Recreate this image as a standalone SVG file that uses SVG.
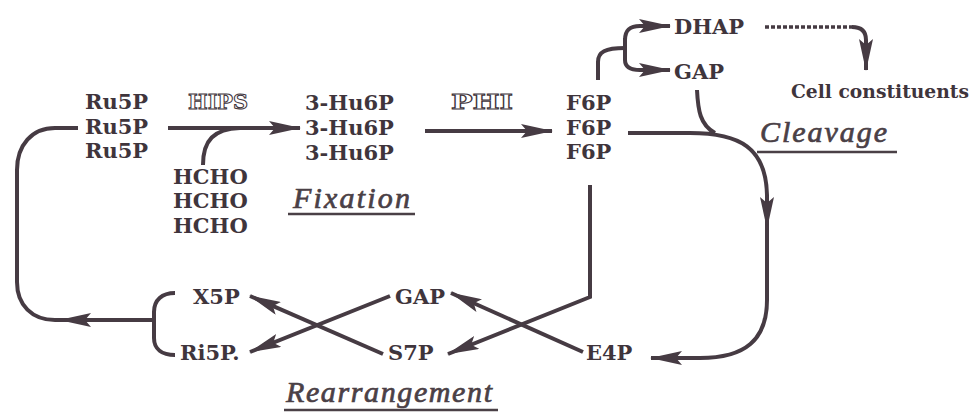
<svg xmlns="http://www.w3.org/2000/svg" width="977" height="414" viewBox="0 0 977 414">
<defs>
<marker id="ah" viewBox="0 0 32 14" refX="31" refY="7" markerWidth="32" markerHeight="14" markerUnits="userSpaceOnUse" orient="auto">
<path d="M0,0 L32,7 L0,14 L6,7 Z" fill="#463b43"/>
</marker>
</defs>
<style>
text{fill:#3f353c;font-family:"DejaVu Serif","Liberation Serif",serif;font-weight:bold;font-size:21px}
.it{font-family:"Liberation Serif",serif;font-style:italic;font-weight:normal;font-size:30px;fill:#4a4046;stroke:#4a4046;stroke-width:0.7}
.ol{fill:#ffffff;stroke:#3f353c;stroke-width:1;font-weight:bold;font-size:20px}
.ln{fill:none;stroke:#463b43;stroke-width:4;stroke-linecap:butt}
.ul{stroke:#4a4046;stroke-width:2.5}
</style>
<rect width="977" height="414" fill="#ffffff"/>
<g id="connectors">
<path class="ln" d="M168,128 H300" marker-end="url(#ah)"/>
<path class="ln" d="M203,165 C203,140 214,129 240,128"/>
<path class="ln" d="M425,131 H552" marker-end="url(#ah)"/>
<path class="ln" d="M598,80 V62 C598,52 605,48 625,48"/>
<path class="ln" d="M625,38 V60 C625,67 630,70 640,70 H670" marker-end="url(#ah)"/>
<path class="ln" d="M625,40 C625,30 630,26 640,26 H670" marker-end="url(#ah)"/>
<path fill="none" stroke="#463b43" stroke-width="3.5" stroke-dasharray="4,2" d="M765,27 H852"/>
<path class="ln" d="M852,27 C860,27 866,30 866,40 V70" marker-end="url(#ah)"/>
<path class="ln" d="M697,90 C698,110 700,125 715,133"/>
<path class="ln" d="M628,133 H690 C740,133 766,148 767,195 V228" marker-end="url(#ah)"/>
<path class="ln" d="M767,226 V300 C767,340 745,358 700,358 H651" marker-end="url(#ah)"/>
<path class="ln" d="M590,185 V297 L448,354" marker-end="url(#ah)"/>
<path class="ln" d="M583,352 L451,293" marker-end="url(#ah)"/>
<path class="ln" d="M390,296 L250,352" marker-end="url(#ah)"/>
<path class="ln" d="M383,354 L250,296" marker-end="url(#ah)"/>
<path class="ln" d="M175,293 C162,293 154,300 154,312 V338 C154,349 162,355 175,355"/>
<path class="ln" d="M154,320 H60" marker-end="url(#ah)"/>
<path class="ln" d="M64,320 H55 C32,320 17,305 17,282 V170 C17,145 32,128 55,128 H78"/>
</g>
<g id="ru5p"><text x="85" y="109">Ru5P</text><text x="85" y="134">Ru5P</text><text x="85" y="158">Ru5P</text></g>
<g id="hips"><text class="ol" x="188" y="109" textLength="60" lengthAdjust="spacingAndGlyphs">HIPS</text></g>
<g id="hcho"><text x="173" y="184">HCHO</text><text x="173" y="208">HCHO</text><text x="173" y="233">HCHO</text></g>
<g id="hu6p"><text x="305" y="110">3-Hu6P</text><text x="305" y="135">3-Hu6P</text><text x="305" y="160">3-Hu6P</text></g>
<g id="fixation"><text class="it" x="293" y="208" textLength="117" lengthAdjust="spacing">Fixation</text><line class="ul" x1="288" y1="214" x2="415" y2="214"/></g>
<g id="phi"><text class="ol" x="451" y="109" textLength="62" lengthAdjust="spacingAndGlyphs">PHI</text></g>
<g id="f6p"><text x="566" y="110">F6P</text><text x="566" y="135">F6P</text><text x="566" y="159">F6P</text></g>
<g id="dhap"><text x="674" y="34">DHAP</text></g>
<g id="gap1"><text x="674" y="79">GAP</text></g>
<g id="cell"><text x="791" y="98" style="font-size:18px" textLength="178" lengthAdjust="spacingAndGlyphs">Cell constituents</text></g>
<g id="cleavage"><text class="it" x="760" y="142" textLength="127" lengthAdjust="spacing">Cleavage</text><line class="ul" x1="757" y1="152" x2="897" y2="152"/></g>
<g id="x5p"><text x="193" y="304">X5P</text></g>
<g id="ri5p"><text x="180" y="360">Ri5P.</text></g>
<g id="gap2"><text x="395" y="304">GAP</text></g>
<g id="s7p"><text x="388" y="360">S7P</text></g>
<g id="e4p"><text x="586" y="360">E4P</text></g>
<g id="rearrangement"><text class="it" x="286" y="402" textLength="206" lengthAdjust="spacing">Rearrangement</text><line class="ul" x1="284" y1="410" x2="498" y2="410"/></g>
</svg>
